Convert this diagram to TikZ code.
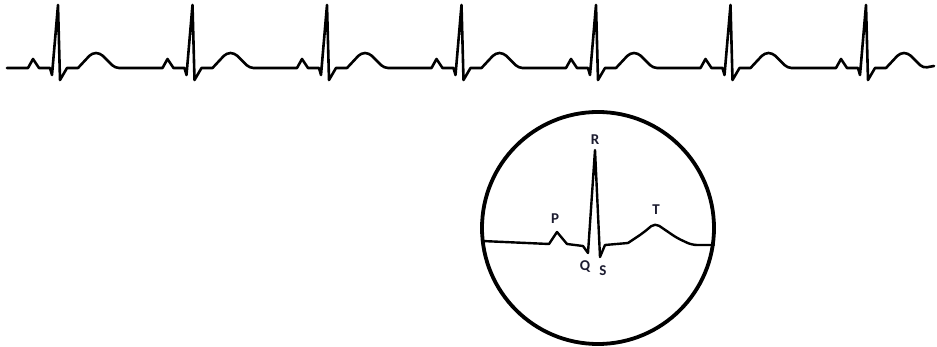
\documentclass[tikz,border=0pt]{standalone}
\usepackage{fontspec}
\setsansfont{Carlito}
\usepackage{xcolor}
\usepackage{tikz}

\definecolor{wavelbl}{HTML}{1C1C30}
\tikzset{
  trace/.style={line width=2.6pt, line join=round, line cap=round},
  wavename/.style={font=\sffamily\bfseries\fontsize{15}{15}\selectfont, text=wavelbl, inner sep=0pt}
}

\begin{document}
\begin{tikzpicture}[x=1pt, y=-1pt]
\useasboundingbox (0,0) rectangle (937,347);

%% tira de arriba: 7 latidos %%%%%%%%%%%%%%%%%%%%%
\def\iBase{68}
\draw[trace] (7,\iBase)
  \foreach \iR in {58,192.5,327,461.5,596,730.5,866}{
    -- (\iR-30,\iBase) -- (\iR-25,59) -- (\iR-19,\iBase)   % P
    -- (\iR-8,\iBase) -- (\iR-6,75)                      % Q
    -- (\iR,5)                                           % R
    -- (\iR+2,80) -- (\iR+9,\iBase) -- (\iR+20,\iBase)   % S
    [rounded corners=4pt] -- (\iR+34,53) -- (\iR+42,53)  % T
    -- (\iR+57,\iBase) [sharp corners]
  }
  -- (934,66);

%% lupa con un solo latido %%%%%%%%%%%%%%%%%%%%%%%%
\draw[line width=3.8pt] (598,228) circle (116);
\draw[trace, line width=2.4pt] (482,241) -- (549,244)
  -- (557,232) -- (567,244) -- (583,246) -- (588,253)
  -- (595,150) -- (600,257) -- (605,245) -- (628,243)
  [rounded corners=5pt] -- (643,233) -- (655,223) -- (677,238)
  -- (692,245) [sharp corners] -- (714,245);

\node[wavename] (lblR) at (595,140) {R};
\node[wavename] (lblP) at (555,219) {P};
\node[wavename] (lblT) at (656,210) {T};
\node[wavename] (lblQ) at (585,267) {Q};
\node[wavename] (lblS) at (603,271) {S};
\end{tikzpicture}
\end{document}
